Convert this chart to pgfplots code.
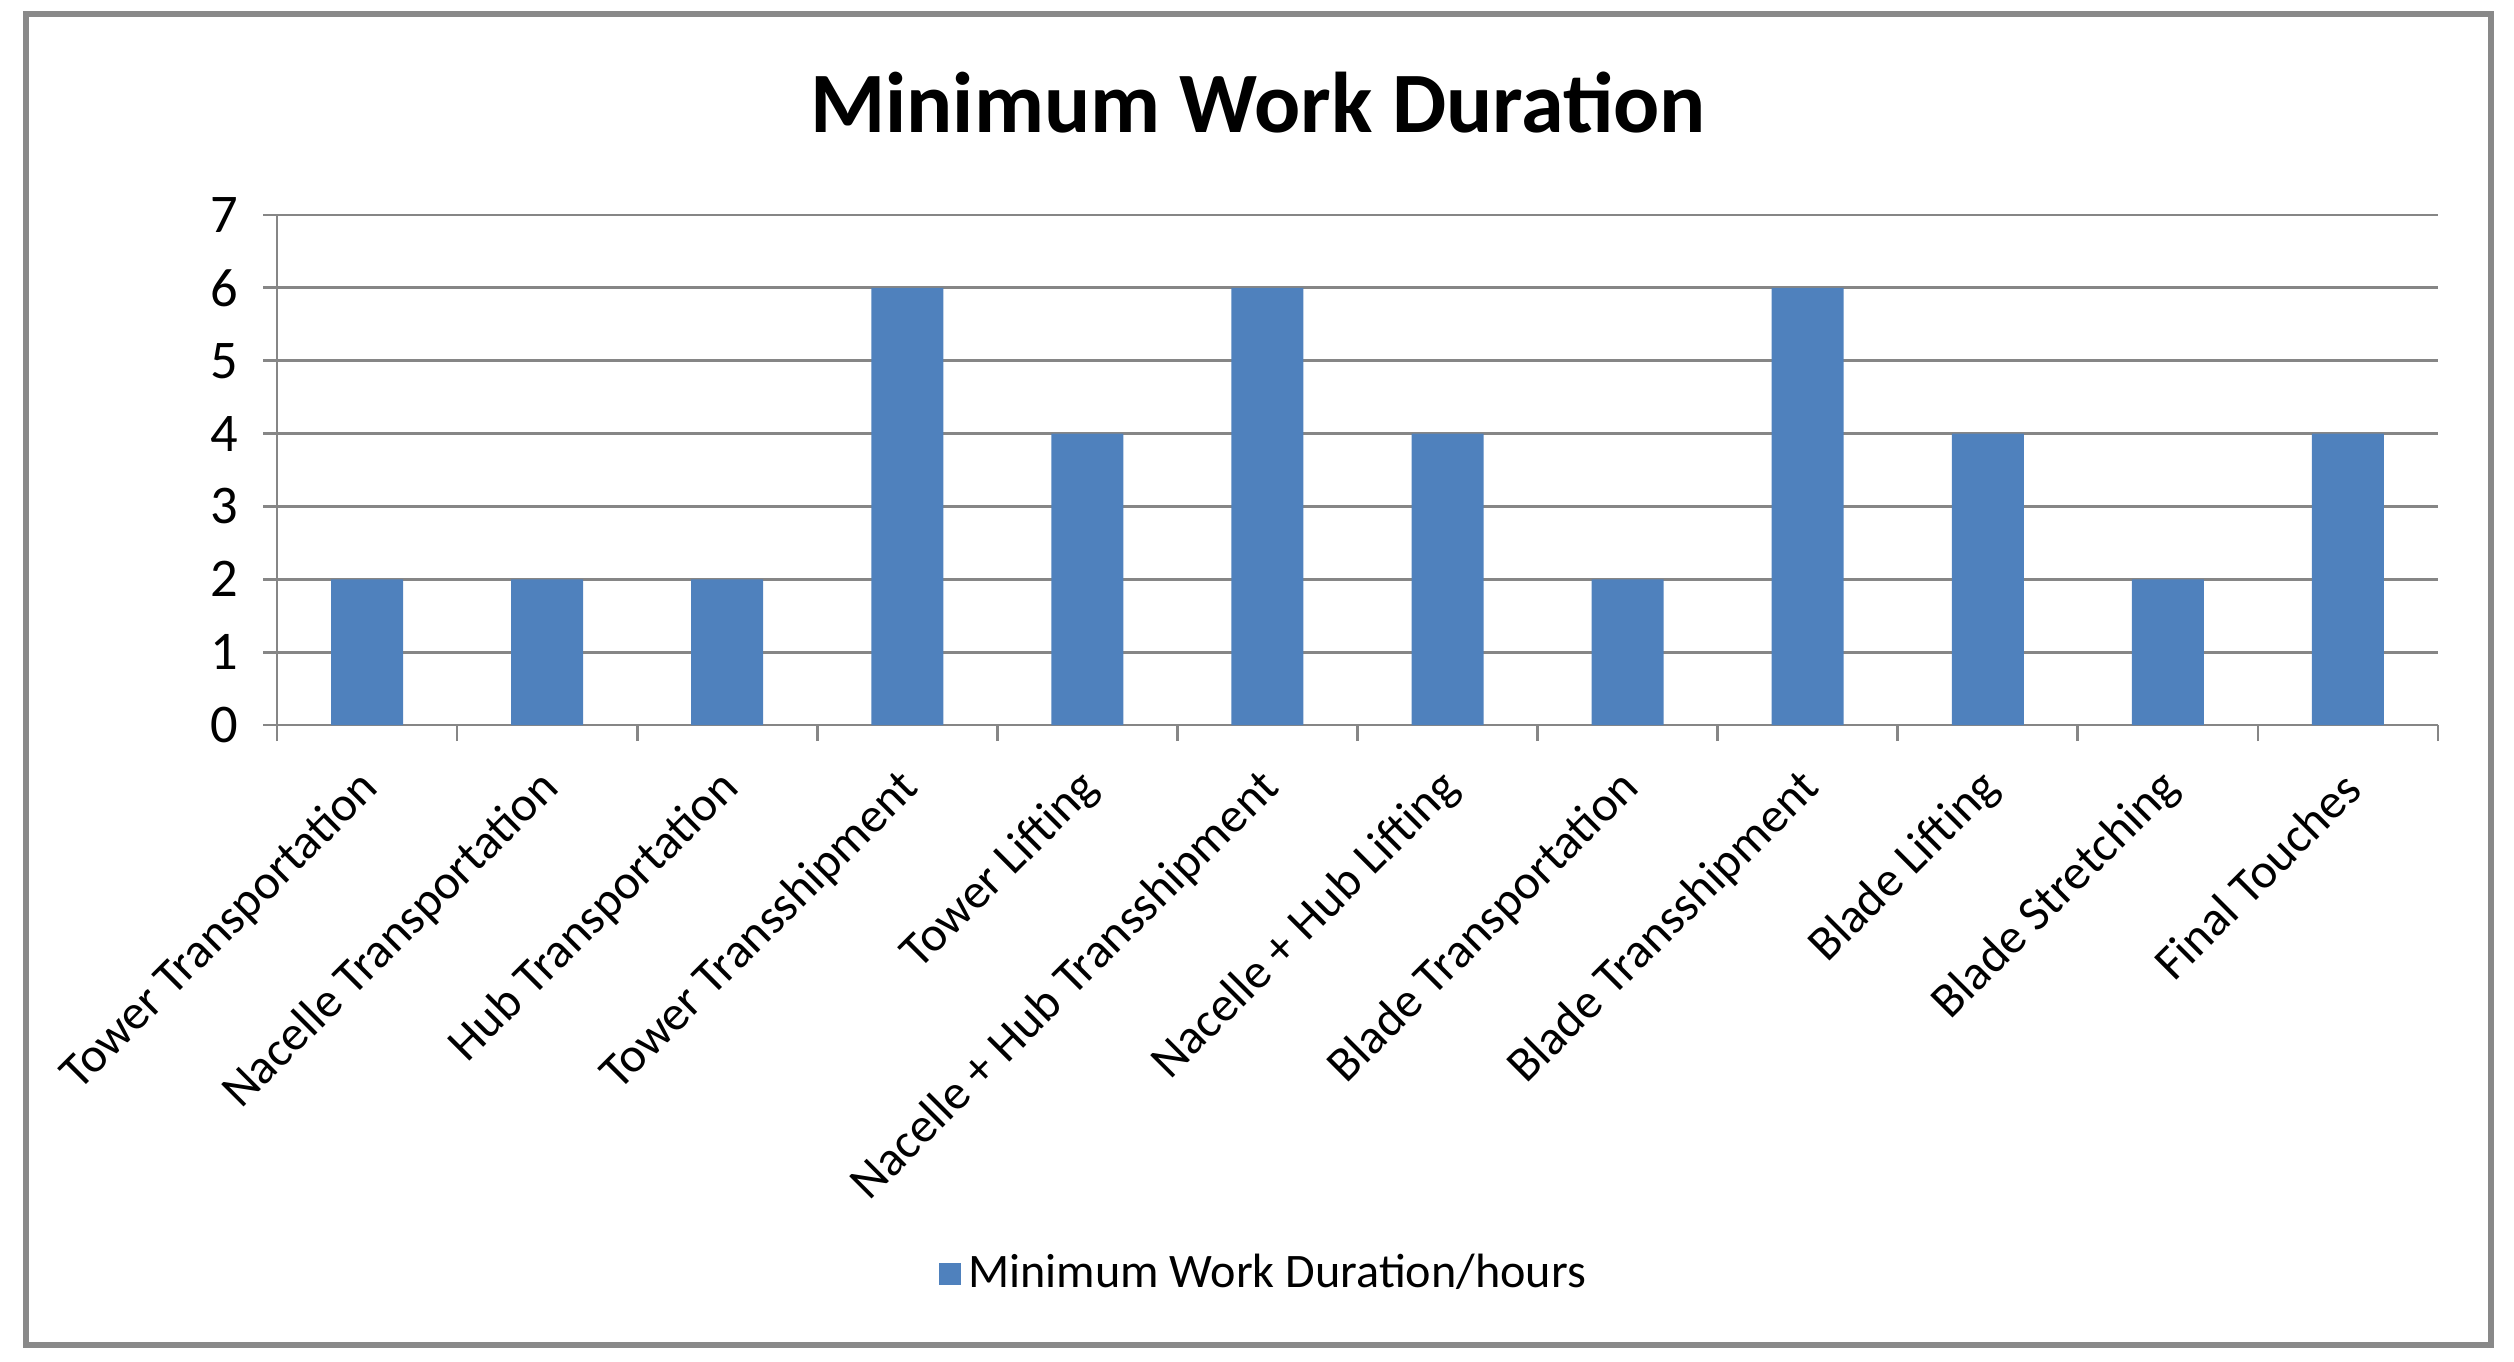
\documentclass[border=0pt]{standalone}
\usepackage{pgfplots}
\pgfplotsset{compat=1.18}
\usepackage{fontspec}
\setmainfont{Carlito}
\definecolor{barblue}{RGB}{79,129,189}
\definecolor{gridgray}{RGB}{134,134,134}
\definecolor{framegray}{RGB}{137,137,137}

\begin{document}
\begin{tikzpicture}
% page size and outer chart frame
\useasboundingbox (0,0) rectangle (25.14cm,13.61cm);
\draw[framegray, line width=1.5pt] (0.26cm,0.16cm) rectangle (24.91cm,13.47cm);

\begin{axis}[
  at={(2.77cm,6.36cm)}, anchor=south west,
  scale only axis,
  width=21.61cm, height=5.10cm,
  xmin=0.5, xmax=12.5,
  ymin=0, ymax=7,
  ytick={0,...,7},
  xtick={1,...,12},
  xticklabels={Tower Transportation, Nacelle Transportation, Hub Transportation,
    Tower Transshipment, Tower Lifting, Nacelle + Hub Transshipment,
    Nacelle + Hub Lifting, Blade Transportation, Blade Transshipment,
    Blade Lifting, Blade Stretching, Final Touches},
  minor xtick={0.5,1.5,...,12.5},
  major x tick style={draw=none},
  minor x tick style={draw=gridgray, line width=0.8pt},
  y tick style={draw=gridgray, line width=0.8pt},
  tick align=outside,
  minor tick length=0.16cm,
  major tick length=0.14cm,
  xticklabel style={xshift=0.07cm, yshift=-0.39cm, rotate=45, anchor=east,
    font=\fontsize{14}{16}\selectfont, inner sep=1pt},
  yticklabel style={font=\fontsize{15.5}{17}\selectfont, xshift=-0.12cm},
  /pgf/number format/assume math mode=true,
  ymajorgrids,
  major grid style={draw=gridgray, line width=0.8pt},
  axis x line*=bottom,
  axis y line*=left,
  axis line style={draw=gridgray, line width=0.8pt},
  title={\textbf{Minimum Work Duration}},
  title style={at={(rel axis cs:0.454,1.18)}, anchor=center, font=\fontsize{24.5}{28}\selectfont},
  legend style={at={(rel axis cs:0.4577,-1.076)}, anchor=center, draw=none,
    font=\fontsize{13.7}{16}\selectfont},
  legend image code/.code={\fill[barblue] (0cm,-0.11cm) rectangle (0.22cm,0.11cm);},
  clip=false
]
\addplot[ybar, bar width=0.4, fill=barblue, draw=none] coordinates {
  (1,2) (2,2) (3,2) (4,6) (5,4) (6,6) (7,4) (8,2) (9,6) (10,4) (11,2) (12,4)
};
\addlegendentry{Minimum Work Duration/hours}
\end{axis}
\end{tikzpicture}
\end{document}
